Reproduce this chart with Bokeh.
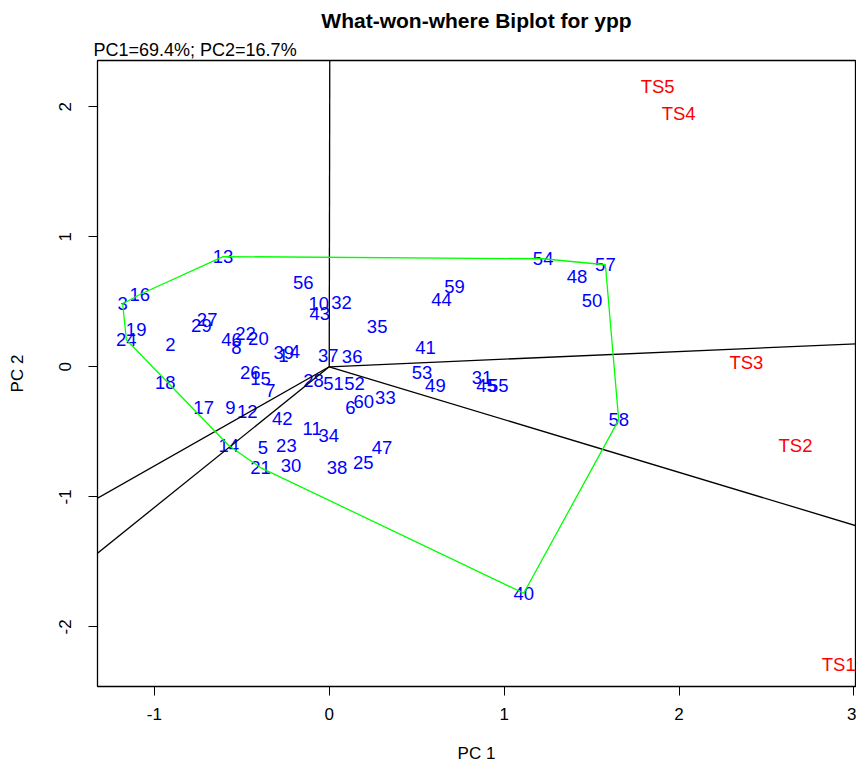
from bokeh.plotting import figure
from bokeh.models import ColumnDataSource, Range1d, FixedTicker, Title
from bokeh.embed import file_html
from bokeh.resources import INLINE
from bokeh.core.properties import value

# ---------------- data ----------------
genotypes = [str(i) for i in range(1, 61)]
gen_x = [-0.262, -0.908, -1.181, -0.197, -0.380, 0.121, -0.336, -0.531, -0.565, -0.060,
         -0.098, -0.469, -0.607, -0.575, -0.393, -1.083, -0.718, -0.937, -1.104, -0.405,
         -0.393, -0.479, -0.245, -1.160, 0.194, -0.451, -0.698, -0.090, -0.731, -0.218,
         0.874, 0.070, 0.321, -0.003, 0.274, 0.131, -0.005, 0.045, -0.260, 1.112,
         0.550, -0.269, -0.054, 0.642, 0.899, -0.559, 0.302, 1.417, 0.607, 1.503,
         0.024, 0.144, 0.531, 1.223, 0.967, -0.149, 1.579, 1.655, 0.716, 0.197]
gen_y = [0.087, 0.172, 0.485, 0.120, -0.618, -0.311, -0.182, 0.148, -0.311, 0.489,
         -0.475, -0.342, 0.848, -0.605, -0.092, 0.556, -0.311, -0.118, 0.285, 0.218,
         -0.775, 0.256, -0.605, 0.208, -0.734, -0.042, 0.362, -0.105, 0.318, -0.759,
         -0.080, 0.497, -0.234, -0.528, 0.310, 0.079, 0.087, -0.777, 0.108, -1.742,
         0.151, -0.400, 0.412, 0.515, -0.144, 0.210, -0.618, 0.692, -0.144, 0.512,
         -0.128, -0.128, -0.042, 0.831, -0.144, 0.651, 0.785, -0.408, 0.618, -0.265]

testers = ["TS1", "TS2", "TS3", "TS4", "TS5"]
tester_x = [2.913, 2.666, 2.385, 1.998, 1.878]
tester_y = [-2.290, -0.605, 0.035, 1.951, 2.156]

# vertices of the which-won-where polygon (genotype names, in order)
hull_order = ["13", "54", "57", "58", "40", "21", "14", "24", "3", "16", "13"]

# sector lines from the origin (direction end points)
ray_end_x = [0.003, 3.014, 3.009, -1.327, -1.327]
ray_end_y = [2.356, 0.177, -1.221, -1.012, -1.436]

x_ticks = [-1, 0, 1, 2, 3]
y_ticks = [-2, -1, 0, 1, 2]

title_text = "What-won-where Biplot for ypp"
subtitle_text = "PC1=69.4%; PC2=16.7%"
x_label = "PC 1"
y_label = "PC 2"

# ---------------- figure ----------------
FONT = "Liberation Sans"

p = figure(width=856, height=766, output_backend="svg", toolbar_location=None,
           x_range=Range1d(-1.325, 3.009), y_range=Range1d(-2.459, 2.356),
           min_border_left=97, min_border_right=1, min_border_top=60,
           min_border_bottom=80)
p.title.visible = False
p.grid.visible = False
p.background_fill_color = "white"
p.border_fill_color = "white"
p.outline_line_color = "black"
p.outline_line_width = 1.3

sub = Title(text=subtitle_text, align="left", offset=-4, standoff=2,
            text_font=FONT, text_font_size="18px", text_font_style="normal",
            text_color="black")
main = Title(text=title_text, align="center", offset=6, standoff=9,
             text_font=FONT, text_font_size="21px", text_font_style="bold",
             text_color="black")
p.add_layout(sub, "above")
p.add_layout(main, "above")

for ax in (p.xaxis[0], p.yaxis[0]):
    ax.axis_line_color = "black"
    ax.major_tick_line_color = "black"
    ax.minor_tick_line_color = None
    ax.major_tick_in = 0
    ax.major_tick_out = 9
    ax.major_label_text_font = FONT
    ax.major_label_text_font_size = "17px"
    ax.major_label_text_color = "black"
    ax.axis_label_text_font = FONT
    ax.axis_label_text_font_size = "17px"
    ax.axis_label_text_font_style = "normal"
    ax.axis_label_text_color = "black"

p.xaxis.ticker = FixedTicker(ticks=x_ticks)
p.yaxis.ticker = FixedTicker(ticks=y_ticks)
p.xaxis.major_label_overrides = {t: str(t) for t in x_ticks}
p.yaxis.major_label_overrides = {t: str(t) for t in y_ticks}
p.xaxis.axis_label = x_label
p.yaxis.axis_label = y_label
p.xaxis.major_label_standoff = 12
p.xaxis.axis_label_standoff = 21
p.yaxis.major_label_orientation = "vertical"
p.yaxis.major_label_standoff = 17
p.yaxis.axis_label_standoff = 30

gen_src = ColumnDataSource(dict(x=gen_x, y=gen_y, t=genotypes))
p.text(x="x", y="y", text="t", source=gen_src, text_align="center",
       text_baseline="middle", text_color="#0000FF",
       text_font=value(FONT), text_font_size=value("18.5px"))

ts_src = ColumnDataSource(dict(x=tester_x, y=tester_y, t=testers))
p.text(x="x", y="y", text="t", source=ts_src, text_align="center",
       text_baseline="middle", text_color="#FF0000",
       text_font=value(FONT), text_font_size=value("18.5px"))

# sector lines
n = len(ray_end_x)
ray_src = ColumnDataSource(dict(x0=[0.0] * n, y0=[0.0] * n,
                                x1=[v * 1.5 for v in ray_end_x],
                                y1=[v * 1.5 for v in ray_end_y]))
p.segment(x0="x0", y0="y0", x1="x1", y1="y1", source=ray_src,
          line_color="black", line_width=1.3)

# polygon
idx = {g: i for i, g in enumerate(genotypes)}
hx = [gen_x[idx[g]] for g in hull_order]
hy = [gen_y[idx[g]] for g in hull_order]
p.line(hx, hy, line_color="#00FF00", line_width=1.3)

open("out.html", "w").write(file_html(p, INLINE))
